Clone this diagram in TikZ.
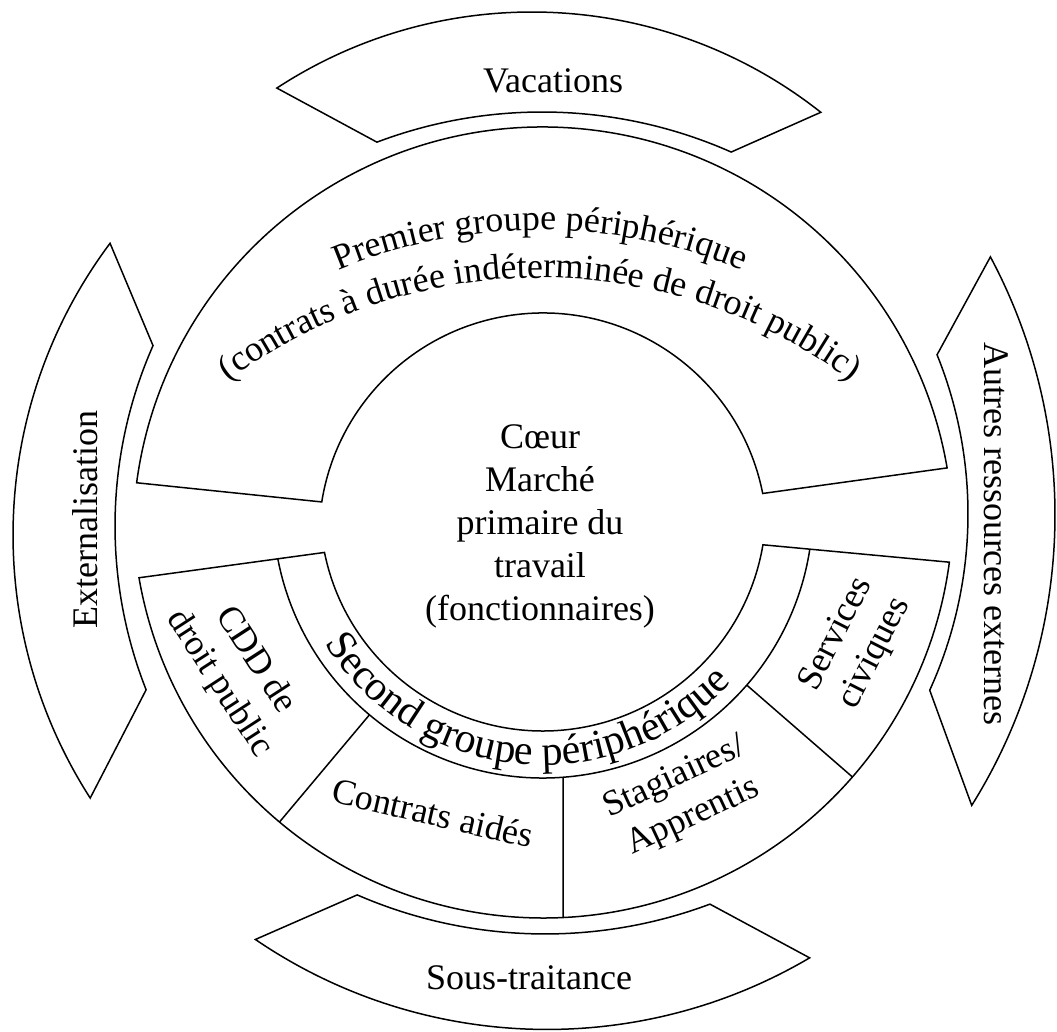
\documentclass[tikz,border=0pt]{standalone}
\usepackage{fontspec}
\setmainfont{Liberation Serif}
\usepackage{tikz}
\usetikzlibrary{calc,decorations.text}
\newcommand\lblsize{\fontsize{18}{21.5}\selectfont}
\newcommand\bigsize{\fontsize{21}{25}\selectfont}
\tikzset{
  band/.style={draw=black, line width=0.75pt, line join=miter},
  sep/.style={draw=black, line width=0.75pt},
  lbl/.style={font=\lblsize, inner sep=0pt, align=center}
}

\begin{document}
\begin{tikzpicture}[x=0.5pt, y=0.5pt]
\useasboundingbox (0,0) rectangle (1057,1032);
\coordinate (cu) at (543,495);
\coordinate (cl) at (543,524);
\coordinate (tp) at (540,280);
\coordinate (tq) at (540,232);
\coordinate (vo) at (532,554);
\coordinate (vi) at (542,453);
\coordinate (so) at (547,520);
\coordinate (si) at (545,569);
\coordinate (eo) at (500,497);
\coordinate (ei) at (562,506);
\coordinate (ao) at (507,517);
\coordinate (ai) at (543,518);

% premier groupe
\draw[band] ($(cu)+(172.4:410)$) arc[start angle=172.4, end angle=9.7, radius=410]
  -- ($(cu)+(11.2:224)$) arc[start angle=11.2, end angle=171, radius=224] -- cycle;

% second groupe et segments
\draw[band] ($(cl)+(191.5:223)$) arc[start angle=191.5, end angle=350.5, radius=223]
  -- ($(cl)+(352.4:410)$) arc[start angle=352.4, end angle=189.8, radius=410] -- cycle;
\draw[sep] ($(cl)+(190.86:270)$) arc[start angle=190.86, end angle=351.22, radius=270];
\draw[sep] ($(cl)+(230:270)$) -- ($(cl)+(230:410)$);
\draw[sep] ($(cl)+(274.25:270)$) -- ($(cl)+(272.8:410)$);
\draw[sep] ($(cl)+(319:270)$) -- ($(cl)+(319:410)$);

% bandeaux
\draw[band] ($(vo)+(123.2:466)$) arc[start angle=123.2, end angle=51.7, radius=466]
  -- ($(vi)+(66.1:467)$) arc[start angle=66.1, end angle=110.7, radius=467] -- cycle;
\draw[band] ($(so)+(235.7:517.5)$) arc[start angle=235.7, end angle=300.5, radius=517.5]
  -- ($(si)+(290.5:471)$) arc[start angle=290.5, end angle=246.5, radius=471] -- cycle;
\draw[band] ($(eo)+(143.2:487)$) arc[start angle=143.2, end angle=212.7, radius=487]
  -- ($(ei)+(201.5:447)$) arc[start angle=201.5, end angle=156.2, radius=447] -- cycle;
\draw[band] ($(ao)+(28.1:548)$) arc[start angle=28.1, end angle=-32, radius=548]
  -- ($(ai)+(-24.5:425)$) arc[start angle=-24.5, end angle=22, radius=425] -- cycle;

% textes
\path[decorate, decoration={text along path, text align=center,
  text={|\lblsize|Premier groupe périphérique}}]
  ($(tp)+(135:522)$) arc[start angle=135, end angle=45, radius=522];
\path[decorate, decoration={text along path, text align=center,
  text={|\lblsize|(contrats à durée indéterminée de droit public)}}]
  ($(tq)+(150:522)$) arc[start angle=150, end angle=30, radius=522];
\path[decorate, decoration={text along path, text align=center,
  text={|\bigsize|Second groupe périphérique}}]
  ($(cl)+(204.5:257)$) arc[start angle=204.5, end angle=324.5, radius=257];

\node[lbl] (coeur) at (540,506) {Cœur\\Marché\\primaire du\\travail\\(fonctionnaires)};
\node[lbl] (vac) at (553,951) {Vacations};
\node[lbl] (sous) at (529,54) {Sous-traitance};
\node[lbl, rotate=90] (ext) at (85,512) {Externalisation};
\node[lbl, rotate=-90] (autres) at (996,498) {Autres ressources externes};
\node[lbl, rotate=-57] (cdd) at (237,360) {CDD de\\droit public};
\node[lbl, rotate=-13] (aides) at (433,219) {Contrats aidés};
\node[lbl, rotate=25] (stag) at (684,234) {Stagiaires/\\Apprentis};
\node[lbl, rotate=63] (serv) at (856,388) {Services\\civiques};
\end{tikzpicture}
\end{document}
